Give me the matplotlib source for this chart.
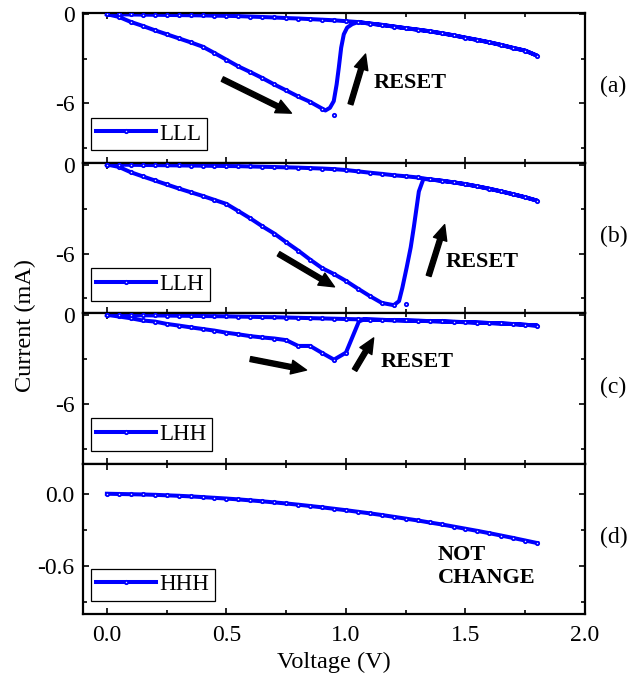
import matplotlib
matplotlib.use("Agg")
import matplotlib.pyplot as plt
from matplotlib.lines import Line2D
from matplotlib.ticker import MultipleLocator, FormatStrFormatter

plt.rcParams['font.family'] = ['Liberation Serif', 'DejaVu Serif']
plt.rcParams['axes.unicode_minus'] = False

# ---------------- data (V, mA) ----------------
volt = [0.00, 0.05, 0.10, 0.15, 0.20, 0.25, 0.30, 0.35, 0.40, 0.45,
        0.50, 0.55, 0.60, 0.65, 0.70, 0.75, 0.80, 0.85, 0.90, 0.95,
        1.00, 1.05, 1.10, 1.15, 1.20, 1.25, 1.30, 1.35, 1.40, 1.45,
        1.50, 1.55, 1.60, 1.65, 1.70, 1.75, 1.80]

# (a) LLL
a_up = [0.00, -0.01, -0.02, -0.03, -0.04, -0.05, -0.06, -0.07, -0.08, -0.10,
        -0.11, -0.13, -0.16, -0.19, -0.22, -0.26, -0.29, -0.33, -0.37, -0.41,
        -0.47, -0.53, -0.63, -0.72, -0.83, -0.94, -1.04, -1.15, -1.28, -1.42,
        -1.58, -1.73, -1.89, -2.07, -2.27, -2.45, -2.79]
a_low = [0.00, -0.18, -0.52, -0.79, -1.08, -1.35, -1.62, -1.89, -2.18, -2.61,
         -3.06, -3.51, -3.89, -4.29, -4.72, -5.12, -5.53, -5.89, -6.34, -6.74]
a_rise_v = [0.914, 0.933, 0.949, 0.961, 0.970, 0.980, 0.991, 1.005, 1.026]
a_rise_i = [-6.47, -6.29, -5.84, -4.72, -3.60, -2.25, -1.35, -0.90, -0.67]

# (b) LLH
b_up = [0.00, -0.01, -0.02, -0.03, -0.04, -0.05, -0.06, -0.07, -0.08, -0.09,
        -0.10, -0.11, -0.13, -0.15, -0.17, -0.19, -0.21, -0.24, -0.27, -0.31,
        -0.37, -0.46, -0.55, -0.63, -0.72, -0.79, -0.87, -1.00, -1.09, -1.20,
        -1.32, -1.47, -1.63, -1.81, -2.00, -2.20, -2.43]
b_low = [0.00, -0.16, -0.52, -0.80, -1.07, -1.34, -1.61, -1.86, -2.11, -2.38,
         -2.65, -3.13, -3.62, -4.15, -4.64, -5.22, -5.78, -6.39, -6.96, -7.36,
         -7.82, -8.34, -8.84, -9.30, -9.45, -9.40]
b_rise_v = [1.222, 1.236, 1.254, 1.271, 1.284, 1.296, 1.305, 1.324]
b_rise_i = [-9.18, -8.28, -6.92, -5.56, -4.20, -2.84, -1.81, -0.97]

# (c) LHH
c_up = [0.00, -0.01, -0.02, -0.03, -0.04, -0.05, -0.06, -0.07, -0.08, -0.09,
        -0.10, -0.12, -0.13, -0.15, -0.16, -0.18, -0.20, -0.22, -0.24, -0.26,
        -0.28, -0.30, -0.32, -0.34, -0.36, -0.38, -0.40, -0.42, -0.44, -0.47,
        -0.49, -0.52, -0.55, -0.58, -0.62, -0.67, -0.72]
c_low = [0.00, -0.11, -0.23, -0.38, -0.45, -0.61, -0.72, -0.84, -0.95, -1.06,
         -1.20, -1.31, -1.43, -1.52, -1.59, -1.70, -2.09, -2.09, -2.56, -3.01,
         -2.54]
c_rise_v = [1.054, 1.075]
c_rise_i = [-0.45, -0.31]

# (d) HHH
d_curr = [0.000, -0.002, -0.004, -0.006, -0.009, -0.013, -0.017, -0.022, -0.028, -0.034,
          -0.040, -0.047, -0.055, -0.063, -0.072, -0.081, -0.091, -0.102, -0.113, -0.125,
          -0.137, -0.150, -0.163, -0.177, -0.192, -0.207, -0.222, -0.239, -0.255, -0.273,
          -0.291, -0.309, -0.328, -0.348, -0.368, -0.389, -0.410]

labels = ['LLL', 'LLH', 'LHH', 'HHH']
panel_tags = ['(a)', '(b)', '(c)', '(d)']

# annotation positions (data coordinates): (tail, tip)
a_arrows = [((0.483, -4.36), (0.772, -6.65)), ((1.019, -6.05), (1.082, -2.68))]
b_arrows = [((0.718, -6.00), (0.952, -8.22)), ((1.346, -7.48), (1.413, -4.04))]
c_arrows = [((0.600, -2.97), (0.835, -3.71)), ((1.036, -3.71), (1.116, -1.55))]
reset_pos = [(1.116, -4.63), (1.417, -6.54), (1.145, -3.20)]
notchange_pos = (1.384, -0.605)

BLUE = '#0000FF'
LW = 2.9
MK = dict(marker='o', ms=2.4, mfc='#e4e4ff', mec=BLUE, mew=1.3, ls='none')


def sweep_line(low, n_low, rise_v, rise_i, up, j_up):
    """forward path: lower branch, reset rise, upper branch; then return on upper branch"""
    v = volt[:n_low] + rise_v + volt[j_up:] + volt[:-1][::-1]
    i = low[:n_low] + rise_i + up[j_up:] + up[:-1][::-1]
    return v, i


fig = plt.figure(figsize=(6.4, 6.77), dpi=100)
gs = fig.add_gridspec(4, 1, left=83 / 640, right=585 / 640,
                      top=1 - 12.7 / 677, bottom=1 - 614 / 677, hspace=0)
axes = [fig.add_subplot(gs[k]) for k in range(4)]

panels = [
    (a_low, 19, a_rise_v, a_rise_i, a_up, 21),
    (b_low, 25, b_rise_v, b_rise_i, b_up, 27),
    (c_low, 21, c_rise_v, c_rise_i, c_up, 22),
]

for k, (low, n_low, rv, ri, up, j_up) in enumerate(panels):
    ax = axes[k]
    v, i = sweep_line(low, n_low, rv, ri, up, j_up)
    ax.plot(v, i, color=BLUE, lw=LW, solid_joinstyle='round', zorder=2)
    ax.plot(volt[:len(low)], low, color=BLUE, zorder=3, **MK)
    ax.plot(volt, up, color=BLUE, zorder=3, **MK)
    ax.set_ylim(-10, 0.1)
    ax.yaxis.set_major_locator(MultipleLocator(6))
    ax.yaxis.set_minor_locator(MultipleLocator(3))
    ax.yaxis.set_major_formatter(FormatStrFormatter('%d'))

ax = axes[3]
ax.plot(volt, d_curr, color=BLUE, lw=LW, zorder=2)
ax.plot(volt, d_curr, color=BLUE, zorder=3, **MK)
ax.set_ylim(-1.0, 0.25)
ax.yaxis.set_major_locator(MultipleLocator(0.6))
ax.yaxis.set_minor_locator(MultipleLocator(0.3))
ax.yaxis.set_major_formatter(FormatStrFormatter('%.1f'))

arrow_style = dict(arrowstyle='simple,head_length=1.1,head_width=1.0,tail_width=0.36',
                   color='black', mutation_scale=10, shrinkA=0, shrinkB=0)

for ax, arrows in zip(axes[:3], [a_arrows, b_arrows, c_arrows]):
    for tail, tip in arrows:
        ax.annotate('', xy=tip, xytext=tail, arrowprops=arrow_style, zorder=4)

for ax, pos in zip(axes[:3], reset_pos):
    ax.text(pos[0], pos[1], 'RESET', fontsize=16, fontweight='bold',
            ha='left', va='center')

axes[3].text(notchange_pos[0], notchange_pos[1], 'NOT\nCHANGE', fontsize=16,
             fontweight='bold', ha='left', va='center', linespacing=1.15)

for k, ax in enumerate(axes):
    ax.set_xlim(-0.1, 2.0)
    ax.xaxis.set_major_locator(MultipleLocator(0.5))
    ax.xaxis.set_minor_locator(MultipleLocator(0.25))
    ax.xaxis.set_major_formatter(FormatStrFormatter('%.1f'))
    ax.tick_params(which='both', direction='in', top=True, right=True,
                   width=1.2, labelsize=17)
    ax.tick_params(which='major', length=4.5)
    ax.tick_params(which='minor', length=2.6)
    ax.tick_params(axis='y', pad=6)
    ax.tick_params(axis='x', pad=8)
    if k < 3:
        ax.tick_params(axis='x', labelbottom=False)
    for s in ax.spines.values():
        s.set_linewidth(1.6)
    handle = Line2D([], [], color=BLUE, lw=LW, marker='o', ms=2.4,
                    mfc='#e4e4ff', mec=BLUE, mew=1.3)
    leg = ax.legend([handle], [labels[k]], loc='lower left',
                    bbox_to_anchor=(0.015, 0.085), borderaxespad=0,
                    fontsize=16.5, frameon=True, fancybox=False, framealpha=1,
                    edgecolor='black', borderpad=0.25, handlelength=2.6,
                    handletextpad=0.15, numpoints=1)
    leg.get_frame().set_linewidth(0.9)
    ax.text(1.03, 0.51, panel_tags[k], transform=ax.transAxes, fontsize=17,
            ha='left', va='center')

axes[3].set_xlabel('Voltage (V)', fontsize=17.5, labelpad=4)
fig.text(25 / 640, 1 - 325 / 677, 'Current (mA)', rotation=90,
         ha='center', va='center', fontsize=17.5)

fig.savefig('out.png', dpi=100)
